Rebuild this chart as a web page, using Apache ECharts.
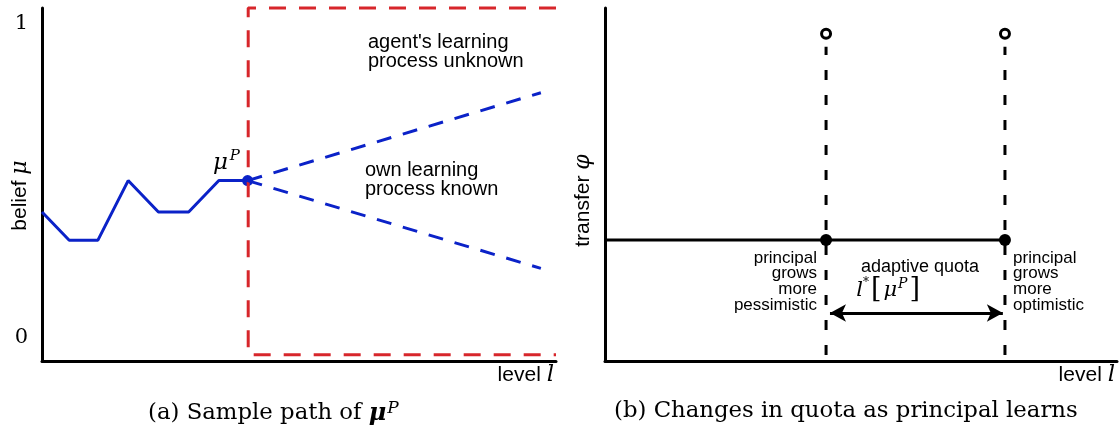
<!DOCTYPE html>
<html>
<head>
<meta charset="utf-8">
<script src="https://cdn.jsdelivr.net/npm/echarts@6/dist/echarts.min.js"></script>
<style>
html, body { margin: 0; padding: 0; background: #fff; }
#chart { width: 1119px; height: 433px; }
</style>
</head>
<body>
<div id="chart"></div>
<script>
// (a) sample path of the principal's belief
const pathLevels = [0, 0.9, 1.85, 2.85, 3.85, 4.85, 5.85, 6.8]
const pathBelief = [0.4, 0.31, 0.31, 0.5, 0.4, 0.4, 0.5, 0.5]
const muP = [6.8, 0.5]
const ownUpperEnd = [16.5, 0.78]
const ownLowerEnd = [16.5, 0.22]
const unknownBox = [[17, 1.05], [6.82, 1.05], [6.82, -0.055], [17, -0.055]]
const beliefTicks = [0, 1]

// (b) quota as principal learns
const transferLevel = 0.343
const quotaBounds = [7.34, 13.28]
const quotaTop = 0.927
const dashBottom = 0.017
const dashTop = 0.89
const arrowLevel = 0.136

const sans = 'Liberation Sans, Arial, sans-serif'
const serif = 'DejaVu Serif, serif'

const myChart = echarts.init(document.getElementById('chart'))

function axisBase (extra) {
  return Object.assign({
    type: 'value',
    axisLine: { show: true, onZero: false, lineStyle: { color: '#000', width: 3 } },
    axisTick: { show: false },
    axisLabel: { show: false },
    splitLine: { show: false }
  }, extra)
}

// invisible points that only carry text
function textPoint (value, text, align, extra) {
  return {
    value: value,
    label: Object.assign({
      show: true,
      position: [0, 0],
      formatter: text,
      align: align,
      verticalAlign: 'middle',
      color: '#000',
      fontFamily: sans
    }, extra)
  }
}

const levelName = {
  name: 'level {l|l}',
  nameLocation: 'end',
  nameGap: -2,
  nameMoveOverlap: false,
  nameTextStyle: {
    align: 'right',
    verticalAlign: 'top',
    padding: [3, 0, 0, 0],
    color: '#000',
    fontFamily: sans,
    fontSize: 21,
    rich: { l: { fontFamily: serif, fontStyle: 'italic', fontSize: 23, color: '#000' } }
  }
}

// rotated axis name; right padding pushes it a bit below the middle
function sideName (word, sym, shift) {
  return {
    name: '{s|' + word + ' }{m|' + sym + '}',
    nameLocation: 'middle',
    nameRotate: 90,
    nameGap: 11,
    nameMoveOverlap: false,
    nameTextStyle: {
      padding: [0, shift, 0, 0],
      rich: {
        s: { fontFamily: sans, fontSize: 21, color: '#000' },
        m: { fontFamily: serif, fontStyle: 'italic', fontSize: 22, color: '#000' }
      }
    }
  }
}

const option = {
  animation: false,
  title: [
    {
      text: '(a) Sample path of {m|μ}{p|P}',
      left: 143,
      top: 395,
      textStyle: {
        fontFamily: serif, fontSize: 22.8, fontWeight: 'normal', color: '#000',
        rich: {
          m: { fontFamily: serif, fontSize: 24, fontWeight: 'bold', fontStyle: 'italic', color: '#000' },
          p: { fontFamily: serif, fontSize: 17, fontStyle: 'italic', verticalAlign: 'top', padding: [0, 0, 10, 1], color: '#000' }
        }
      }
    },
    {
      text: '(b) Changes in quota as principal learns',
      left: 609,
      top: 395,
      textStyle: { fontFamily: serif, fontSize: 22.8, fontWeight: 'normal', color: '#000' }
    }
  ],
  grid: [
    { left: 42, top: 8, width: 514, height: 353, outerBoundsMode: 'none' },
    { left: 605, top: 8, width: 512, height: 353, outerBoundsMode: 'none' }
  ],
  xAxis: [
    axisBase(Object.assign({ gridIndex: 0, min: 0, max: 17 }, levelName)),
    axisBase(Object.assign({ gridIndex: 1, min: 0, max: 17 }, levelName))
  ],
  yAxis: [
    axisBase(Object.assign({
      gridIndex: 0, min: -0.075, max: 1.05,
      axisLabel: { show: true, customValues: beliefTicks, color: '#000', fontFamily: serif, fontSize: 21, margin: 14 }
    }, sideName('belief', 'μ', 22))),
    axisBase(Object.assign({ gridIndex: 1, min: 0, max: 1 }, sideName('transfer', 'φ', 32)))
  ],
  series: [
    // ---- panel (a)
    {
      type: 'line',
      xAxisIndex: 0, yAxisIndex: 0,
      data: unknownBox,
      symbol: 'none',
      clip: false,
      lineStyle: { color: '#d7262b', width: 3, type: [17, 13] }
    },
    {
      type: 'line',
      xAxisIndex: 0, yAxisIndex: 0,
      data: [muP, ownUpperEnd],
      symbol: 'none',
      lineStyle: { color: '#0b22c8', width: 3, type: [15, 12] }
    },
    {
      type: 'line',
      xAxisIndex: 0, yAxisIndex: 0,
      data: [muP, ownLowerEnd],
      symbol: 'none',
      lineStyle: { color: '#0b22c8', width: 3, type: [15, 12] }
    },
    {
      type: 'line',
      xAxisIndex: 0, yAxisIndex: 0,
      data: pathLevels.map((x, i) => [x, pathBelief[i]]),
      symbol: 'none',
      lineStyle: { color: '#0b22c8', width: 3 }
    },
    {
      type: 'scatter',
      xAxisIndex: 0, yAxisIndex: 0,
      data: [muP],
      symbolSize: 11,
      itemStyle: { color: '#0b22c8', opacity: 1 }
    },
    {
      type: 'scatter',
      xAxisIndex: 0, yAxisIndex: 0,
      symbolSize: 0,
      silent: true,
      itemStyle: { opacity: 1 },
      data: [
        textPoint([10.78, 0.911], "agent's learning\nprocess unknown", 'left', { fontSize: 20, lineHeight: 19 }),
        textPoint([10.68, 0.503], 'own learning\nprocess known', 'left', { fontSize: 20, lineHeight: 19 }),
        textPoint([6.1, 0.556], '{m|μ}{p|P}', 'center', {
          rich: {
            m: { fontFamily: serif, fontStyle: 'italic', fontSize: 23, color: '#000' },
            p: { fontFamily: serif, fontStyle: 'italic', fontSize: 15, color: '#000', verticalAlign: 'top', padding: [0, 0, 13, 2] }
          }
        })
      ]
    },
    // ---- panel (b)
    {
      type: 'line',
      xAxisIndex: 1, yAxisIndex: 1,
      data: [[0, transferLevel], [quotaBounds[1], transferLevel]],
      symbol: 'none',
      lineStyle: { color: '#000', width: 3 }
    },
    {
      type: 'line',
      xAxisIndex: 1, yAxisIndex: 1,
      data: [[quotaBounds[0], dashBottom], [quotaBounds[0], dashTop]],
      symbol: 'none',
      lineStyle: { color: '#000', width: 3, type: [10, 15] }
    },
    {
      type: 'line',
      xAxisIndex: 1, yAxisIndex: 1,
      data: [[quotaBounds[1], dashBottom], [quotaBounds[1], dashTop]],
      symbol: 'none',
      lineStyle: { color: '#000', width: 3, type: [10, 15] },
      markLine: {
        silent: true,
        symbol: ['arrow', 'arrow'],
        symbolSize: [13, 16],
        label: { show: false },
        lineStyle: { color: '#000', width: 3, type: 'solid' },
        data: [[{ coord: [7.47, arrowLevel] }, { coord: [13.21, arrowLevel] }]]
      }
    },
    {
      type: 'scatter',
      xAxisIndex: 1, yAxisIndex: 1,
      data: quotaBounds.map(x => [x, transferLevel]),
      symbolSize: 12,
      itemStyle: { color: '#000', opacity: 1 }
    },
    {
      type: 'scatter',
      xAxisIndex: 1, yAxisIndex: 1,
      data: quotaBounds.map(x => [x, quotaTop]),
      symbolSize: 9,
      itemStyle: { color: '#fff', borderColor: '#000', borderWidth: 3, opacity: 1 }
    },
    {
      type: 'scatter',
      xAxisIndex: 1, yAxisIndex: 1,
      symbolSize: 0,
      silent: true,
      itemStyle: { opacity: 1 },
      data: [
        textPoint([7.04, 0.225], 'principal\ngrows\nmore\npessimistic', 'right', { fontSize: 17, lineHeight: 15.7 }),
        textPoint([13.55, 0.225], 'principal\ngrows\nmore\noptimistic', 'left', { fontSize: 17, lineHeight: 15.7 }),
        textPoint([10.46, 0.266], 'adaptive quota', 'center', { fontSize: 18 }),
        textPoint([9.4, 0.2], '{l|l}{s|*}{b|[}{m|μ}{p|P}{b|]}', 'center', {
          rich: {
            l: { fontFamily: serif, fontStyle: 'italic', fontSize: 21, color: '#000' },
            s: { fontFamily: serif, fontSize: 12, color: '#000', verticalAlign: 'top', padding: [0, 2, 8, 0] },
            b: { fontFamily: serif, fontSize: 27, fontWeight: 'lighter', color: '#000' },
            m: { fontFamily: serif, fontStyle: 'italic', fontSize: 21, color: '#000', padding: [0, 0, 0, 2] },
            p: { fontFamily: serif, fontStyle: 'italic', fontSize: 14, color: '#000', verticalAlign: 'top', padding: [0, 2, 10, 1] }
          }
        })
      ]
    }
  ]
}

myChart.clear()
myChart.setOption(option)
window.addEventListener('resize', function () {
  myChart.resize()
})
</script>
</body>
</html>
